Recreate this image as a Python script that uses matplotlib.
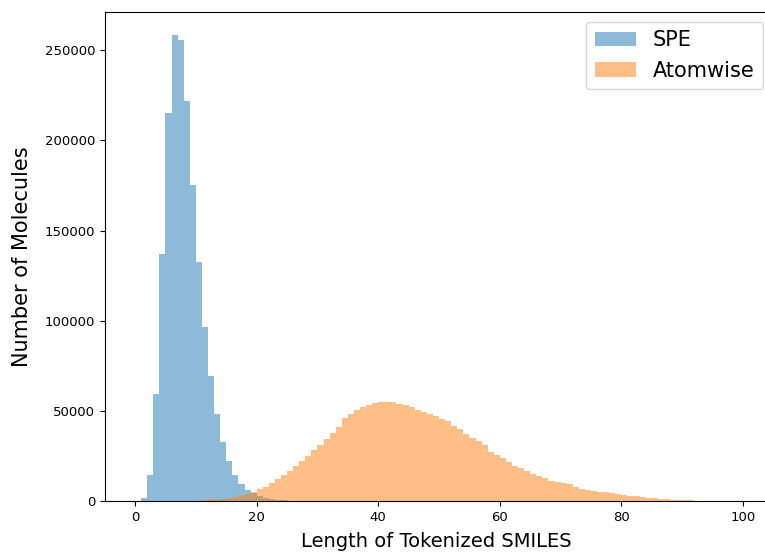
import matplotlib
matplotlib.use('Agg')
import matplotlib.pyplot as plt
import numpy as np

# bin edges 0..99, one bin per token length
edges = np.arange(0, 100)

# counts, one per bin (0..98)
spe_counts = [0, 1500, 14600, 59100, 136700, 214900, 258300, 255900, 221900, 175000,
              132300, 96600, 69500, 48000, 32500, 22000, 14400, 9700, 6300, 4300,
              2900, 1900, 1200, 750, 450, 250, 150, 80, 40, 20] + [0] * 69

atom_counts = [0, 0, 0, 0, 0, 0, 0, 0, 30, 80,
               150, 300, 500, 800, 1200, 1700, 2400, 3200, 4000, 5000,
               6500, 7900, 9800, 12200, 14400, 16600, 19200, 22200, 25100, 28100,
               31200, 34500, 37900, 41200, 45800, 48400, 50400, 52100, 53400, 54300,
               54700, 55000, 54700, 53900, 53000, 52300, 50400, 49500, 48400, 47300,
               45500, 44300, 41500, 39900, 37000, 35100, 33300, 31000, 27300, 25500,
               24000, 21800, 19600, 18500, 16600, 15000, 14000, 12900, 11300, 10700,
               10200, 9200, 7800, 6800, 6300, 5500, 5000, 4800, 4200, 3700,
               3300, 2900, 2600, 2200, 1800, 1500, 1100, 900, 700, 500,
               400, 300, 200, 150, 100, 60, 40, 20, 10]

fig = plt.figure(figsize=(7.65, 5.52), dpi=100)
# right edge runs just past the figure, as in the reference
ax = fig.add_axes([105 / 765, 0.0924, 662 / 765, 0.886])

ax.hist(edges[:-1], bins=edges, weights=spe_counts, alpha=0.5, label='SPE')
ax.hist(edges[:-1], bins=edges, weights=atom_counts, alpha=0.5, label='Atomwise')

ax.set_xlabel('Length of Tokenized SMILES', fontsize=14, labelpad=6)
ax.set_ylabel('Number of Molecules', fontsize=15, labelpad=9)
ax.tick_params(labelsize=9.5)
ax.spines['right'].set_visible(False)  # cropped off in the original
ax.legend(loc='upper right', fontsize=15, borderaxespad=0,
          bbox_to_anchor=(763 / 765, 1 - 22 / 552), bbox_transform=fig.transFigure)

fig.savefig('out.png', dpi=100)
